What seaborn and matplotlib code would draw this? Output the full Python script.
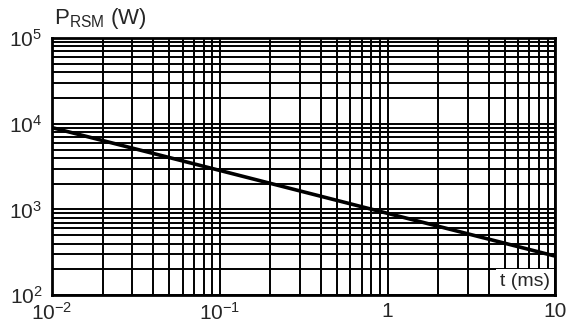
import numpy as np
import pandas as pd
import matplotlib
matplotlib.use("Agg")
import matplotlib.pyplot as plt
import seaborn as sns
from matplotlib.ticker import LogLocator, NullFormatter, FixedLocator

# surge power vs pulse duration
t_ms = [0.01, 0.1, 1, 10]
p_rsm = [9000, 2850, 900, 285]

x_ticks = [0.01, 0.1, 1, 10]
x_labels = ["$\\mathregular{10^{-2}}$", "$\\mathregular{10^{-1}}$", "1", "10"]
y_ticks = [1e2, 1e3, 1e4, 1e5]
y_labels = ["$\\mathregular{10^{2}}$", "$\\mathregular{10^{3}}$", "$\\mathregular{10^{4}}$", "$\\mathregular{10^{5}}$"]

df = pd.DataFrame({"t": t_ms, "P": p_rsm})

sns.set_style("white")
plt.rcParams["font.family"] = ["Liberation Sans", "DejaVu Sans"]
plt.rcParams["mathtext.fontset"] = "custom"
plt.rcParams["mathtext.rm"] = "Liberation Sans"

fig = plt.figure(figsize=(5.66, 3.25), dpi=100)
ax = fig.add_axes([0.092, 0.092, 0.889, 0.791])

sns.lineplot(data=df, x="t", y="P", color="black", linewidth=2.6, ax=ax, zorder=5)
ax.set_xscale("log")
ax.set_yscale("log")
ax.set_xlim(0.01, 10)
ax.set_ylim(100, 1e5)

ax.xaxis.set_major_locator(FixedLocator(x_ticks))
ax.yaxis.set_major_locator(FixedLocator(y_ticks))
ax.xaxis.set_minor_locator(LogLocator(base=10, subs=np.arange(2, 10)))
ax.yaxis.set_minor_locator(LogLocator(base=10, subs=np.arange(2, 10)))
ax.xaxis.set_minor_formatter(NullFormatter())
ax.yaxis.set_minor_formatter(NullFormatter())
ax.set_xticklabels(x_labels, fontsize=15)
ax.set_yticklabels(y_labels, fontsize=15)
ax.tick_params(axis="x", which="both", length=0, pad=5)
ax.tick_params(axis="y", which="both", length=0, pad=7)

ax.grid(True, which="both", color="black", linewidth=1.4)
for s in ax.spines.values():
    s.set_color("black")
    s.set_linewidth(2)

ax.set_xlabel("")
ax.set_ylabel("")
fig.text(0.095, 0.905, "P$_{\\mathregular{RSM}}$ (W)", fontsize=16, ha="left", va="bottom")
ax.text(0.99, 0.02, "t (ms)", transform=ax.transAxes, fontsize=14, ha="right", va="bottom",
        bbox=dict(facecolor="white", edgecolor="none", pad=3), zorder=6)

fig.savefig("out.png", dpi=100)
